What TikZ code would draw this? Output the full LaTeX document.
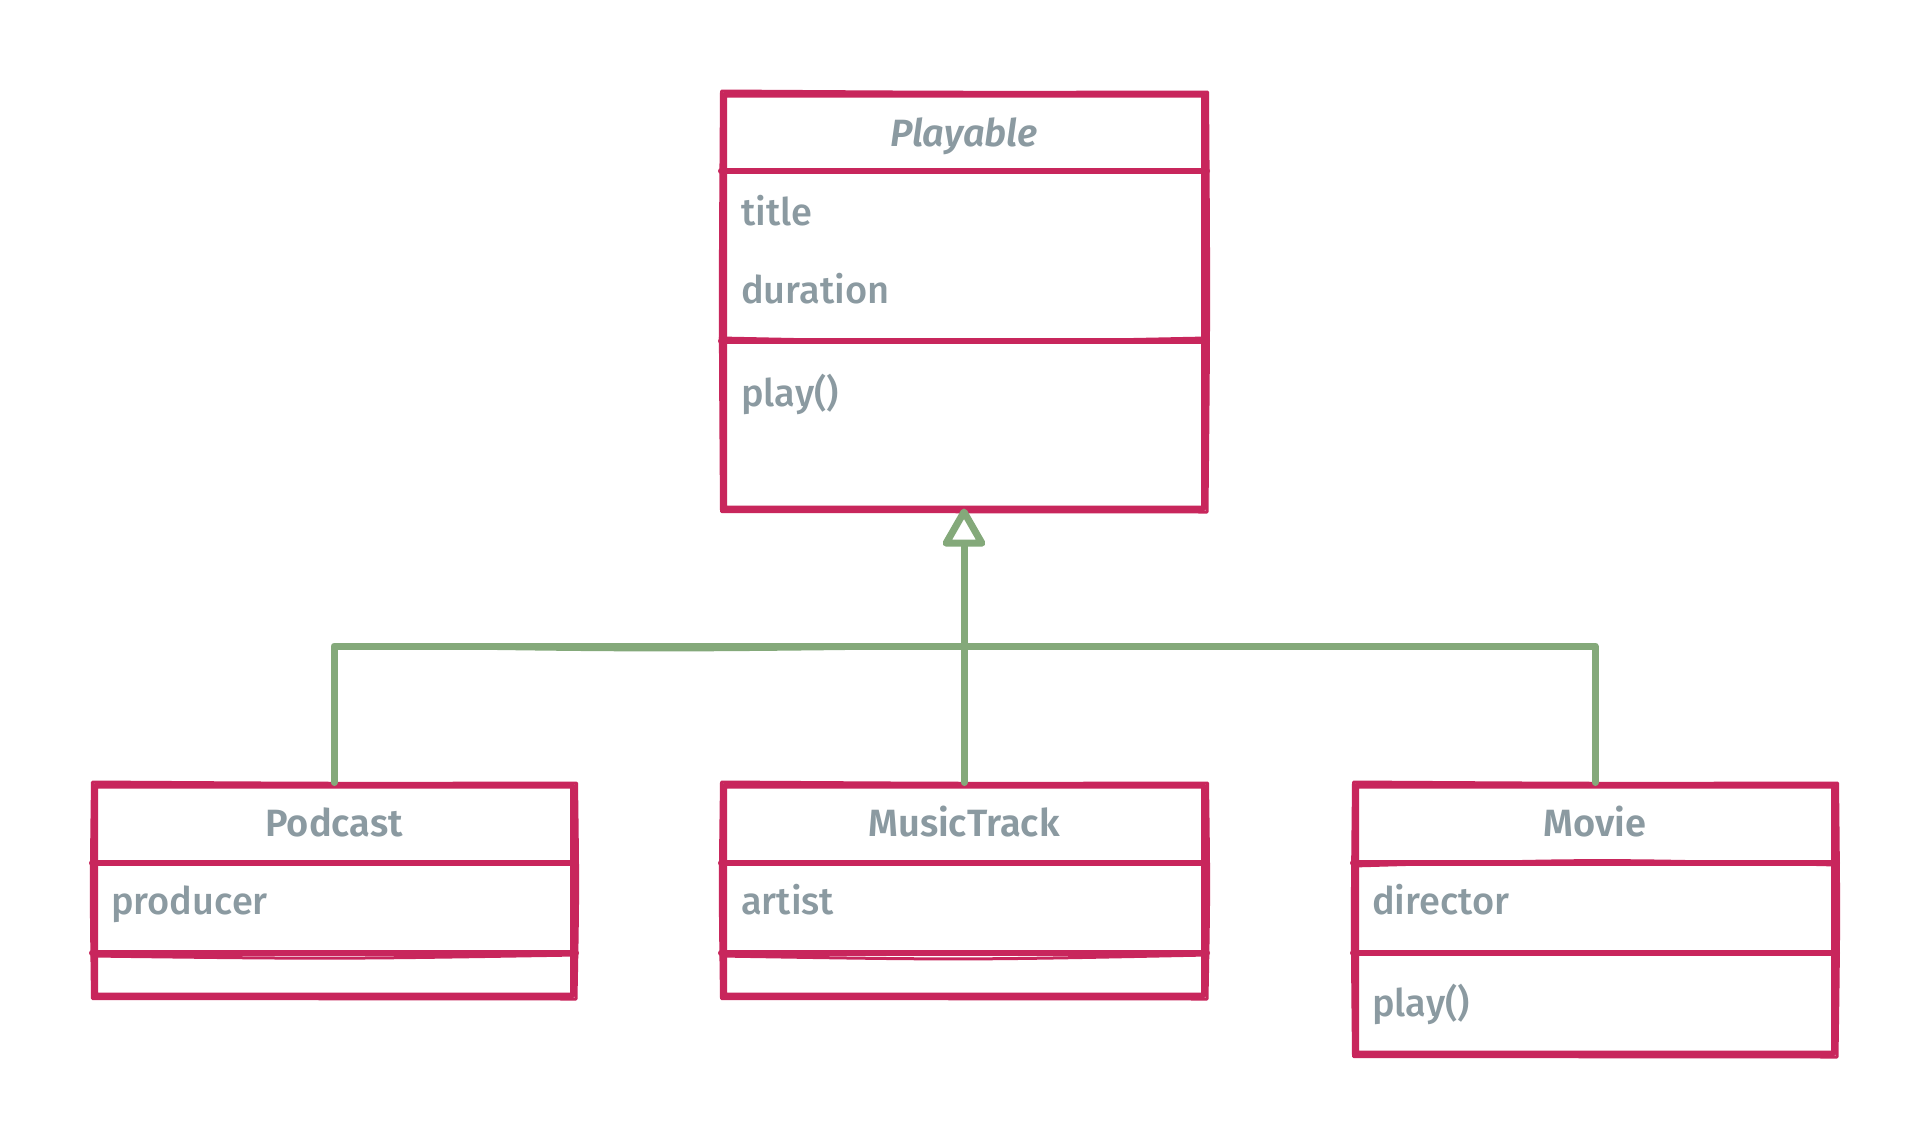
\documentclass[tikz,border=0pt]{standalone}
\usepackage{fontspec}
\setmainfont{Fira Sans}[BoldFont={* SemiBold}, BoldItalicFont={* SemiBold Italic}]
\newfontfamily\memfont{Fira Sans Medium}
\usetikzlibrary{arrows.meta}
\definecolor{pinkc}{HTML}{C8265C}
\definecolor{greenc}{HTML}{84A97A}
\definecolor{greyc}{HTML}{8B9AA1}
\newcommand{\sketchover}[1]{%
  \draw[pinkc, line width=3pt, line join=round, line cap=round]
    ([shift={(0.5,-0.5)}]#1.north west) .. controls ([shift={(0,1)}]#1.north) .. ([shift={(0.5,0.5)}]#1.north east)
    .. controls ([shift={(2,0)}]#1.east) .. ([shift={(0,0.5)}]#1.south east)
    .. controls ([shift={(0,1)}]#1.south) .. ([shift={(0.5,0)}]#1.south west)
    .. controls ([shift={(-1,0)}]#1.west) .. cycle;}
\begin{document}
\begin{tikzpicture}[x=1pt,y=-1pt,
  cls/.style={draw=pinkc, line width=6pt, rounded corners=1.5pt, inner sep=0pt, line join=round},
  div/.style={draw=pinkc, line width=6pt, line cap=round},
  hdr/.style={text=greyc, inner sep=0pt, anchor=base, font=\fontsize{38}{38}\selectfont\bfseries},
  mem/.style={text=greyc, inner sep=0pt, anchor=base west, font=\fontsize{38}{38}\memfont},
  gen/.style={draw=greenc, line width=7pt, line cap=round, line join=round}
]
\useasboundingbox[fill=white] (0,0) rectangle (1926,1146);

% Playable
\node[cls, minimum width=480pt, minimum height=414pt] (P) at (964,301.5) {};
\sketchover{P}
\draw[div] (P.west |- 0,171) -- (P.east |- 0,171);
\draw[div] (P.west |- 0,341) -- (P.east |- 0,341);
\draw[pinkc, line width=3pt, line cap=round] ([xshift=-1pt]P.west |- 0,338) .. controls (964,343) .. (P.east |- 0,338);
\node[hdr] (Pt) at (964,146) {\textit{Playable}};
\node[mem] (Pa1) at (741,225) {title};
\node[mem] (Pa2) at (741,303) {duration};
\node[mem] (Pm1) at (741,406) {play()};

% Podcast
\node[cls, minimum width=478pt, minimum height=210pt] (Pod) at (334,890.5) {};
\sketchover{Pod}
\draw[div] (Pod.west |- 0,863) -- (Pod.east |- 0,863);
\draw[div] (Pod.west |- 0,953) -- (Pod.east |- 0,953);
\draw[pinkc, line width=3pt, line cap=round] (Pod.west |- 0,956) .. controls (334,959) .. (Pod.east |- 0,955);
\node[hdr] (Podt) at (334,836) {Podcast};
\node[mem] (Poda1) at (111,914) {producer};

% MusicTrack
\node[cls, minimum width=480pt, minimum height=210pt] (Mus) at (964,890.5) {};
\sketchover{Mus}
\draw[div] (Mus.west |- 0,863) -- (Mus.east |- 0,863);
\draw[div] (Mus.west |- 0,953) -- (Mus.east |- 0,953);
\draw[pinkc, line width=3pt, line cap=round] (Mus.west |- 0,956) .. controls (964,960) .. (Mus.east |- 0,955);
\node[hdr] (Must) at (964,836) {MusicTrack};
\node[mem] (Musa1) at (741,914) {artist};

% Movie
\node[cls, minimum width=478pt, minimum height=268pt] (Mov) at (1595,919.5) {};
\sketchover{Mov}
\draw[div] (Mov.west |- 0,863) -- (Mov.east |- 0,863);
\draw[pinkc, line width=3pt, line cap=round] (Mov.west |- 0,866) .. controls (1595,859) .. (Mov.east |- 0,865);
\draw[div] (Mov.west |- 0,953) -- (Mov.east |- 0,953);
\node[hdr] (Movt) at (1595,836) {Movie};
\node[mem] (Mova1) at (1372,914) {director};
\node[mem] (Movm1) at (1372,1016) {play()};

% generalization
\coordinate (J) at (964,646);
\draw[gen] (Pod.north) -- (Pod.north |- J) -- (Mov.north |- J) -- (Mov.north);
\draw[greenc, line width=3pt, line cap=round] ([xshift=2pt]Pod.north |- J) .. controls (650,651) .. (964,647);
\draw[greenc, line width=3pt, line cap=round] ([xshift=2pt]Pod.north |- 0,650) .. controls ([xshift=-2pt]Pod.north |- 0,720) .. ([xshift=1pt]Pod.north);
\draw[gen, shorten >=-3pt, -{Triangle[open, length=42pt, width=46pt, line join=round]}] (Mus.north) -- (P.south);
\end{tikzpicture}
\end{document}
